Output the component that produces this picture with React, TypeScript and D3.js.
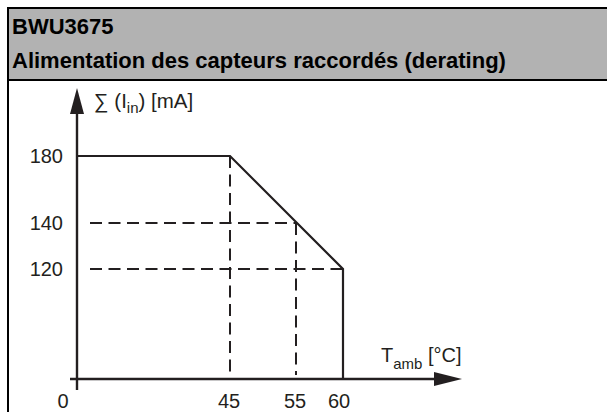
import React, { useEffect, useRef } from "react";
import * as d3 from "d3";

// derating curve: ambient temperature (°C) vs. total sensor current (mA)
const curveTemps = [0, 45, 60, 60];
const curveCurrents = [180, 180, 120, 0];

// tick labels of the schematic axes
const xTicks = [0, 45, 55, 60];
const yTicks = [120, 140, 180];

// dashed helper lines (data units)
const dashedH = [
  { t0: 0, t1: 55, i: 140 },
  { t0: 0, t1: 60, i: 120 },
];
const dashedV = [
  { t: 45, i0: 180 },
  { t: 55, i0: 140 },
];

const titleLines = ["BWU3675", "Alimentation des capteurs raccordés (derating)"];

const FONT = "'Liberation Sans', Arial, Helvetica, sans-serif";
const INK = "#231f20";

const App = () => {
  const ref = useRef<SVGSVGElement>(null);

  useEffect(() => {
    const svg = d3.select(ref.current);
    svg.selectAll("*").remove();

    // the diagram is schematic: axis sections are not to scale
    const x = d3.scaleLinear().domain([0, 45, 55, 60]).range([77, 230, 296, 343]);
    const y = d3.scaleLinear().domain([0, 120, 140, 180]).range([379, 269, 223, 156]);

    // header box
    svg.append("rect").attr("x", 8).attr("y", 8).attr("width", 607).attr("height", 72).attr("fill", "#b2b2b2");
    svg.append("line").attr("x1", 8).attr("y1", 8).attr("x2", 607).attr("y2", 8).attr("stroke", "#000").attr("stroke-width", 2);
    svg.append("line").attr("x1", 8).attr("y1", 80).attr("x2", 607).attr("y2", 80).attr("stroke", "#000").attr("stroke-width", 2);
    svg.append("line").attr("x1", 8).attr("y1", 7).attr("x2", 8).attr("y2", 412).attr("stroke", "#000").attr("stroke-width", 2);

    svg
      .selectAll(".title")
      .data(titleLines)
      .enter()
      .append("text")
      .attr("class", "title")
      .attr("x", 12)
      .attr("y", (d, i) => 34 + i * 34)
      .attr("font-family", FONT)
      .attr("font-weight", "bold")
      .attr("font-size", 22)
      .attr("fill", "#000")
      .text((d) => d);

    const g = svg.append("g");

    // dashed helpers
    g.selectAll(".dh")
      .data(dashedH)
      .enter()
      .append("line")
      .attr("x1", (d) => x(d.t0) + 13)
      .attr("x2", (d) => x(d.t1))
      .attr("y1", (d) => y(d.i))
      .attr("y2", (d) => y(d.i))
      .attr("stroke", INK)
      .attr("stroke-width", 2)
      .attr("stroke-dasharray", "12,6.5");

    g.selectAll(".dv")
      .data(dashedV)
      .enter()
      .append("line")
      .attr("x1", (d) => x(d.t))
      .attr("x2", (d) => x(d.t))
      .attr("y1", (d) => y(d.i0))
      .attr("y2", y(0) - 4)
      .attr("stroke", INK)
      .attr("stroke-width", 2)
      .attr("stroke-dasharray", "12,6.5");

    // axes
    g.append("line")
      .attr("x1", x(0))
      .attr("x2", x(0))
      .attr("y1", y(0) + 11)
      .attr("y2", 110)
      .attr("stroke", INK)
      .attr("stroke-width", 2.4);
    g.append("line")
      .attr("x1", x(0) - 7)
      .attr("x2", 436)
      .attr("y1", y(0))
      .attr("y2", y(0))
      .attr("stroke", INK)
      .attr("stroke-width", 2.4);
    // arrow heads
    g.append("path")
      .attr("d", `M${x(0)},88 L${x(0) - 7},114 L${x(0) + 7},114 Z`)
      .attr("fill", INK);
    g.append("path")
      .attr("d", `M462,${y(0)} L434,${y(0) - 7} L434,${y(0) + 7} Z`)
      .attr("fill", INK);

    // derating curve
    const line = d3
      .line<number>()
      .x((d, i) => x(curveTemps[i]))
      .y((d) => y(d));
    g.append("path")
      .datum(curveCurrents)
      .attr("d", line)
      .attr("fill", "none")
      .attr("stroke", INK)
      .attr("stroke-width", 2.2)
      .attr("stroke-linejoin", "miter");

    // tick labels
    g.selectAll(".xt")
      .data(xTicks)
      .enter()
      .append("text")
      .attr("x", (d) => (d === 0 ? x(d) - 14 : x(d) - (d === 60 ? 4 : 1)))
      .attr("y", 408)
      .attr("text-anchor", "middle")
      .attr("font-family", FONT)
      .attr("font-size", 20)
      .attr("fill", INK)
      .text((d) => d);

    g.selectAll(".yt")
      .data(yTicks)
      .enter()
      .append("text")
      .attr("x", 63)
      .attr("y", (d) => y(d))
      .attr("dy", "0.36em")
      .attr("text-anchor", "end")
      .attr("font-family", FONT)
      .attr("font-size", 20)
      .attr("fill", INK)
      .text((d) => d);

    // axis titles
    const yl = g
      .append("text")
      .attr("x", 94)
      .attr("y", 108)
      .attr("font-family", FONT)
      .attr("font-size", 20.5)
      .attr("fill", INK);
    yl.append("tspan").text("∑ (I");
    yl.append("tspan").attr("font-size", 15).attr("dy", 5).text("in");
    yl.append("tspan").attr("dy", -5).text(") [mA]");

    const xl = g
      .append("text")
      .attr("x", 381)
      .attr("y", 362)
      .attr("font-family", FONT)
      .attr("font-size", 20)
      .attr("fill", INK);
    xl.append("tspan").text("T");
    xl.append("tspan").attr("font-size", 15).attr("dy", 7).text("amb");
    xl.append("tspan").attr("dy", -7).text(" [°C]");
  }, []);

  return (
    <svg
      ref={ref}
      width={607}
      height={412}
      style={{ position: "absolute", left: 0, top: 0, background: "#fff" }}
    ></svg>
  );
};

export default App;
